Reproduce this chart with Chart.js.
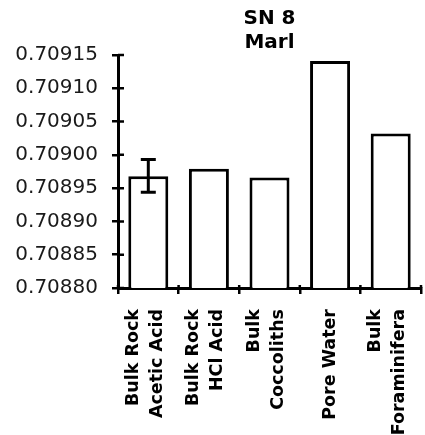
<!DOCTYPE html>
<html><head><meta charset="utf-8">
<style>html,body{margin:0;padding:0;background:#fff;}canvas{display:block;}</style>
<script src="https://cdn.jsdelivr.net/npm/chart.js@4.4.1/dist/chart.umd.min.js"></script>
</head><body>
<canvas id="c" width="425" height="435"></canvas>
<script>
const titleLines = ["SN 8", "Marl"];
const categories = [["Bulk Rock", "Acetic Acid"], ["Bulk Rock", "HCl Acid"], ["Bulk", "Coccoliths"], ["Pore Water"], ["Bulk", "Foraminifera"]];
const values = [0.708968, 0.708979, 0.708966, 0.709141, 0.709032];
const errLow = [0.708944, null, null, null, null];
const errHigh = [0.708993, null, null, null, null];
const yTicks = [0.70880, 0.70885, 0.70890, 0.70895, 0.70900, 0.70905, 0.70910, 0.70915];
const yTickLabels = ["0.70880", "0.70885", "0.70890", "0.70895", "0.70900", "0.70905", "0.70910", "0.70915"];

const LH = 24;
// single-line labels get an empty leading line so every label is centred on its tick
const xLabels = categories.map(c => c.length === 1 ? ["", c[0]] : c);

const extras = {
  id: 'extras',
  afterDatasetsDraw(chart) {
    const ctx = chart.ctx, y = chart.scales.y, meta = chart.getDatasetMeta(0);
    ctx.save();
    ctx.strokeStyle = '#000';
    ctx.lineWidth = 3;
    for (let i = 0; i < values.length; i++) {
      if (errLow[i] == null) continue;
      const x = meta.data[i].x;
      const yl = y.getPixelForValue(errLow[i]);
      const yh = y.getPixelForValue(errHigh[i]);
      ctx.beginPath();
      ctx.moveTo(x, yl); ctx.lineTo(x, yh);
      ctx.moveTo(x - 7.5, yl); ctx.lineTo(x + 7.5, yl);
      ctx.moveTo(x - 7.5, yh); ctx.lineTo(x + 7.5, yh);
      ctx.stroke();
    }
    ctx.restore();
  },
  afterDraw(chart) {
    const ctx = chart.ctx, y = chart.scales.y, x = chart.scales.x, area = chart.chartArea;
    ctx.save();
    ctx.strokeStyle = '#000';
    ctx.lineWidth = 2.5;
    ctx.beginPath();
    for (let i = 0; i < y.ticks.length; i++) {
      const py = y.getPixelForTick(i);
      ctx.moveTo(area.left, py); ctx.lineTo(area.left + 6, py);
    }
    const w = x.getPixelForTick(1) - x.getPixelForTick(0);
    for (let i = 0; i <= x.ticks.length; i++) {
      const px = (i < x.ticks.length ? x.getPixelForTick(i) : x.getPixelForTick(i - 1) + w) - w / 2;
      ctx.moveTo(px, area.bottom); ctx.lineTo(px, area.bottom - 3);
    }
    ctx.stroke();
    ctx.restore();
  }
};

new Chart(document.getElementById('c'), {
  type: 'bar',
  data: {
    labels: xLabels,
    datasets: [{
      data: values,
      backgroundColor: '#fff',
      borderColor: '#000',
      borderWidth: 3,
      borderSkipped: 'bottom',
      barPercentage: 0.66,
      categoryPercentage: 1
    }]
  },
  options: {
    responsive: false,
    animation: false,
    layout: { padding: { left: 0, right: 4, top: 0, bottom: 0 } },
    plugins: {
      legend: { display: false },
      tooltip: { enabled: false },
      title: {
        display: true,
        text: titleLines,
        fullSize: false,
        color: '#000',
        font: { family: 'DejaVu Sans', size: 20, weight: 'bold', lineHeight: 24 / 20 },
        padding: { top: 7, bottom: 0 }
      }
    },
    scales: {
      x: {
        offset: true,
        grid: { display: true, offset: true, drawOnChartArea: false, drawTicks: true, tickLength: 6, lineWidth: 2.5, color: '#000' },
        border: { display: true, width: 3, color: '#000' },
        ticks: {
          autoSkip: false,
          minRotation: 90,
          maxRotation: 90,
          padding: 15,
          labelOffset: -LH / 2 - 3,
          color: '#000',
          font: (c) => ({
            family: 'DejaVu Sans', size: 17.5, weight: 'bold',
            lineHeight: (categories[c.index] && categories[c.index].length === 1 ? LH / 2 + 3 : LH) / 17.5
          })
        },
        afterFit: (s) => { s.height = 147; s.paddingLeft = 0; s.paddingRight = 0; }
      },
      y: {
        min: 0.70880,
        max: 0.70915,
        grid: { display: true, drawOnChartArea: false, drawTicks: true, tickLength: 6, lineWidth: 2.5, color: '#000' },
        border: { display: true, width: 3, color: '#000' },
        afterBuildTicks: (s) => { s.ticks = yTicks.map(v => ({ value: v })); },
        ticks: {
          padding: 14,
          color: '#1a1a1a',
          font: { family: 'DejaVu Sans', size: 20 },
          callback: (v, i) => yTickLabels[i]
        },
        afterFit: (s) => { s.width = 118; s.paddingTop = 0; s.paddingBottom = 0; }
      }
    }
  },
  plugins: [extras]
});
</script>
</body></html>
